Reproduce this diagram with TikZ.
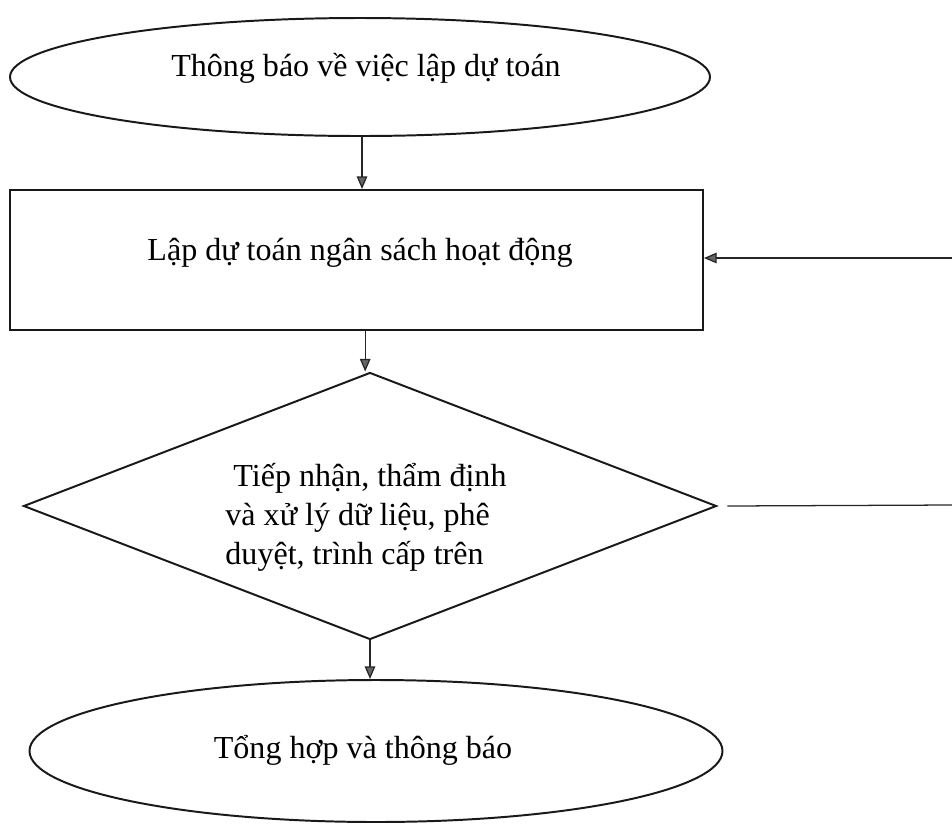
\documentclass[tikz,border=0pt]{standalone}
\usepackage{fontspec}
\setmainfont{Liberation Serif}
\usetikzlibrary{shapes.geometric,arrows.meta}

\tikzset{
  shapeline/.style={draw=black!90, line width=1.4pt},
  flowline/.style={draw=black!85, line width=0.9pt},
  flowarrow/.style={flowline, -{Triangle[length=9pt,width=7.5pt,fill=black!60]}},
  boxtext/.style={font=\fontsize{22.8}{28}\selectfont, inner sep=0pt}
}

\begin{document}
\begin{tikzpicture}
\useasboundingbox (0,0) rectangle (23.8,-20.625);
\coordinate (in1) at (23.8,-6.45);
\coordinate (out1) at (23.8,-12.625);

% shapes
\node[ellipse, shapeline, minimum width=17.5cm, minimum height=2.95cm, inner sep=0pt] (start) at (9.0,-1.925) {};
\node[rectangle, shapeline, minimum width=17.325cm, minimum height=3.5cm] (plan) at (8.9125,-6.5) {};
\node[diamond, shapeline, minimum width=17.325cm, minimum height=6.675cm, inner sep=0pt] (check) at (9.25,-12.65) {};
\node[ellipse, shapeline, minimum width=17.325cm, minimum height=3.55cm, inner sep=0pt] (finish) at (9.4,-18.775) {};

% texts
\node[boxtext] (starttext) at (9.15,-1.72) {Thông báo về việc lập dự toán};
\node[boxtext] (plantext) at (9.0,-6.33) {Lập dự toán ngân sách hoạt động};
\node[boxtext, align=left] (checktext) at (9.15,-12.93) {\ Tiếp nhận, thẩm định\\và xử lý dữ liệu, phê\\duyệt, trình cấp trên};
\node[boxtext] (finishtext) at (9.075,-18.75) {Tổng hợp và thông báo};

% connectors
\draw[flowarrow] ([xshift=0.05cm]start.south) -- ([xshift=0.05cm]start.south |- plan.north);
\draw[flowarrow] ([xshift=-0.12cm]check.north |- plan.south) -- ([xshift=-0.12cm]check.north);
\draw[flowarrow] (check.south) -- (check.south |- finish.north);
\draw[flowarrow] (in1) -- (in1 -| plan.east);
\draw[flowline] ([xshift=0.25cm]check.east) -- (out1);
\end{tikzpicture}
\end{document}
